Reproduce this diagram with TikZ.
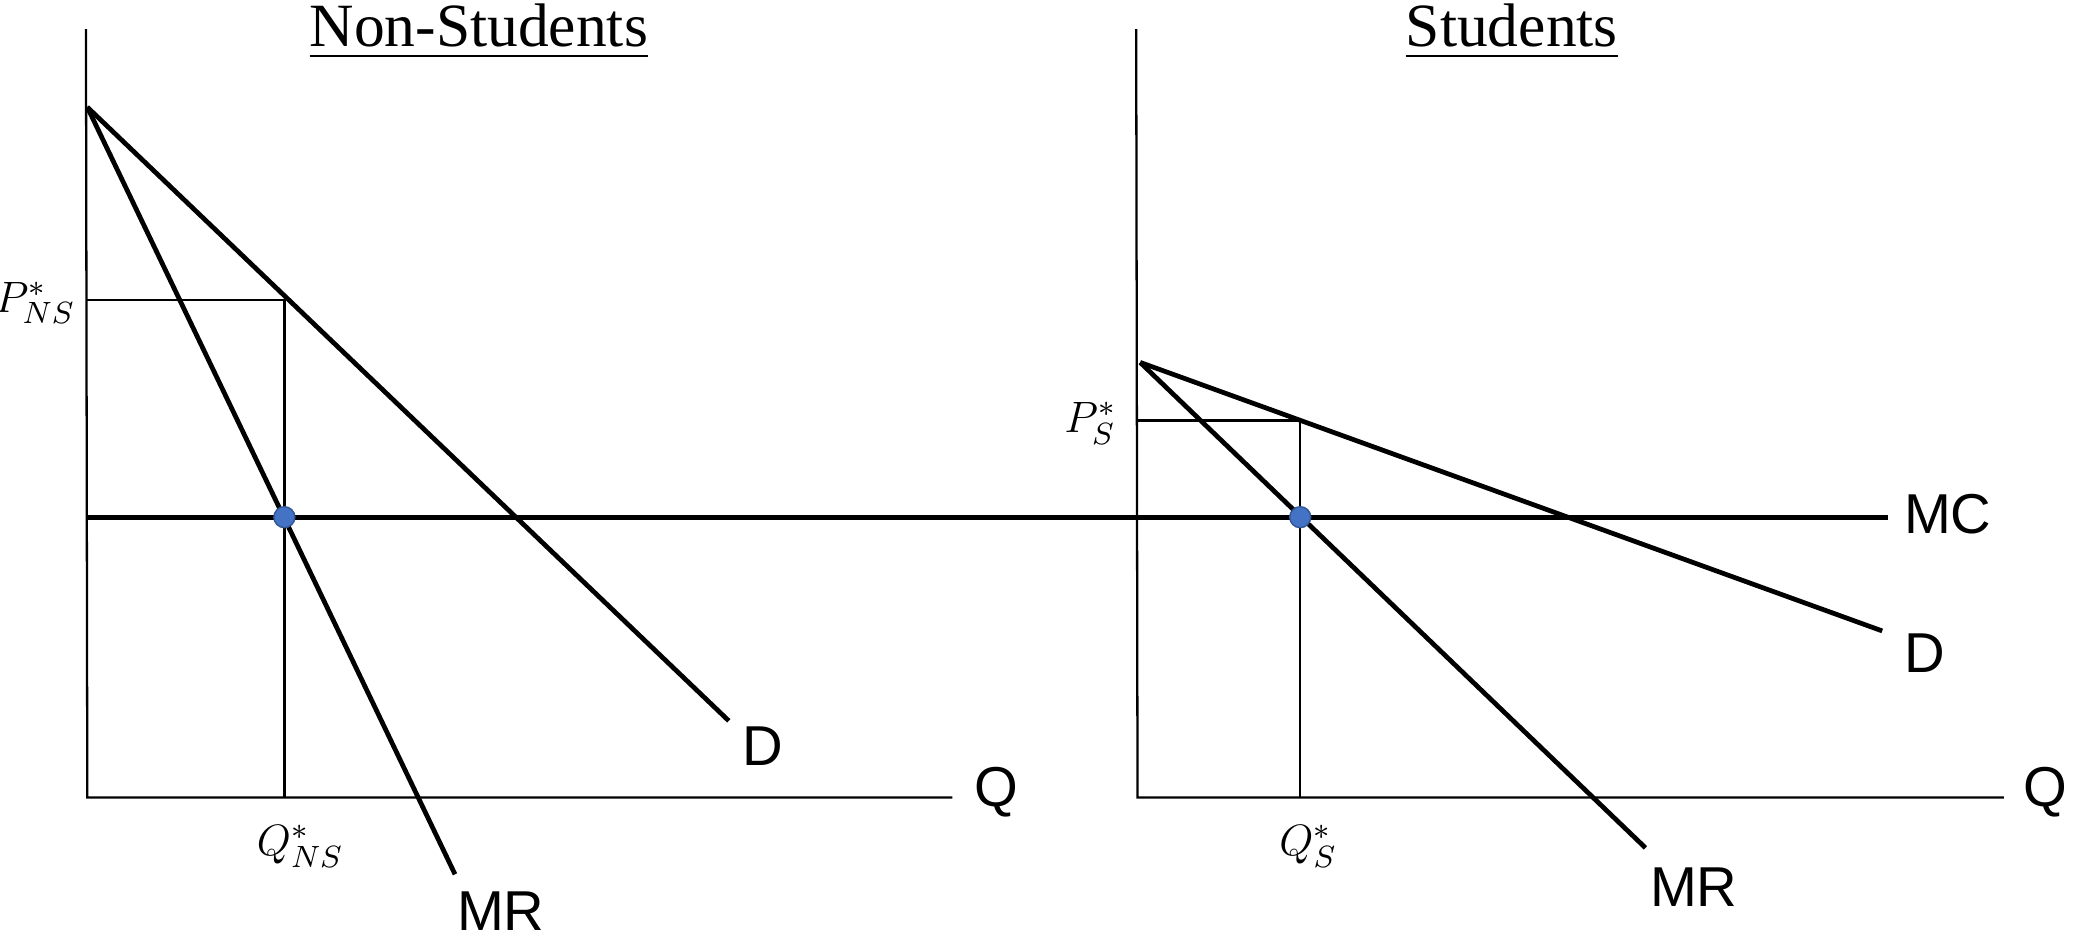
\documentclass[tikz,border=0pt]{standalone}
\usepackage{fix-cm}
\usepackage{amsmath}
\usepackage{fontspec}
\setmainfont{Liberation Serif}
\newfontfamily\labelsans{Liberation Sans}
\usetikzlibrary{positioning,calc}
\definecolor{optblue}{RGB}{68,114,196}
\tikzset{
  curve/.style={line width=1.35pt},
  guide/.style={line width=0.65pt},
  lbl/.style={font=\labelsans\fontsize{16}{16}\selectfont,inner sep=0pt,anchor=west},
  eqlbl/.style={font=\fontsize{12.5}{13}\selectfont,inner sep=1pt},
  ttl/.style={font=\fontsize{17.5}{18}\selectfont,inner sep=0pt},
  optdot/.style={circle,fill=optblue,draw=optblue!75!black,line width=0.4pt,inner sep=0pt,minimum size=0.21cm}
}

\begin{document}
\begin{tikzpicture}[x=0.013227cm,y=-0.013227cm]
\useasboundingbox (0,0) rectangle (1568,711);
% non-students
\coordinate (top1) at (65,22); \coordinate (o1) at (66,603); \coordinate (qend1) at (720,603);
\coordinate (a1) at (66,81); \coordinate (dend1) at (551,545); \coordinate (mrend1) at (344,661);
\coordinate (p1) at (66,227); \coordinate (pd1) at (215,227); \coordinate (q1) at (215,603);
% students
\coordinate (top2) at (859,22); \coordinate (o2) at (860,603); \coordinate (qend2) at (1515,603);
\coordinate (a2) at (862,274); \coordinate (dend2) at (1423,477); \coordinate (mrend2) at (1244,641);
\coordinate (p2) at (860,318); \coordinate (pd2) at (983,318); \coordinate (q2) at (983,603);
\coordinate (mc0) at (66,391); \coordinate (mcend) at (1427,391);
\draw[guide] (top1)--(o1)--(qend1); \draw[guide] (top2)--(o2)--(qend2);
\draw[guide] (p1)--(pd1)--(q1); \draw[guide] (p2)--(pd2)--(q2);
\draw[curve] (mc0)--(mcend);
\draw[curve] (a1)--(dend1); \draw[curve] (a1)--(mrend1);
\draw[curve] (a2)--(dend2); \draw[curve] (a2)--(mrend2);
\node[optdot] (e1) at (215,391) {}; \node[optdot] (e2) at (983,391) {};
\node[ttl] (t1) at (362,24) {\underline{Non-Students}};
\node[ttl] (t2) at (1143,24) {\underline{Students}};
\node[eqlbl,anchor=east] (pns) at (60,229) {$P^*_{NS}$};
\node[eqlbl,anchor=east] (ps) at (847,320) {$P^*_{S}$};
\node[eqlbl] (qns) at (227,640) {$Q^*_{NS}$};
\node[eqlbl] (qs) at (989,640) {$Q^*_{S}$};
\node[lbl] (d1) at (561,564) {D}; \node[lbl] (qa1) at (736,599) {Q}; \node[lbl] (mr1) at (345,689) {MR};
\node[lbl] (mc) at (1439,389) {MC}; \node[lbl] (d2) at (1439,494) {D};
\node[lbl] (qa2) at (1529,599) {Q}; \node[lbl] (mr2) at (1247,671) {MR};
\end{tikzpicture}
\end{document}
